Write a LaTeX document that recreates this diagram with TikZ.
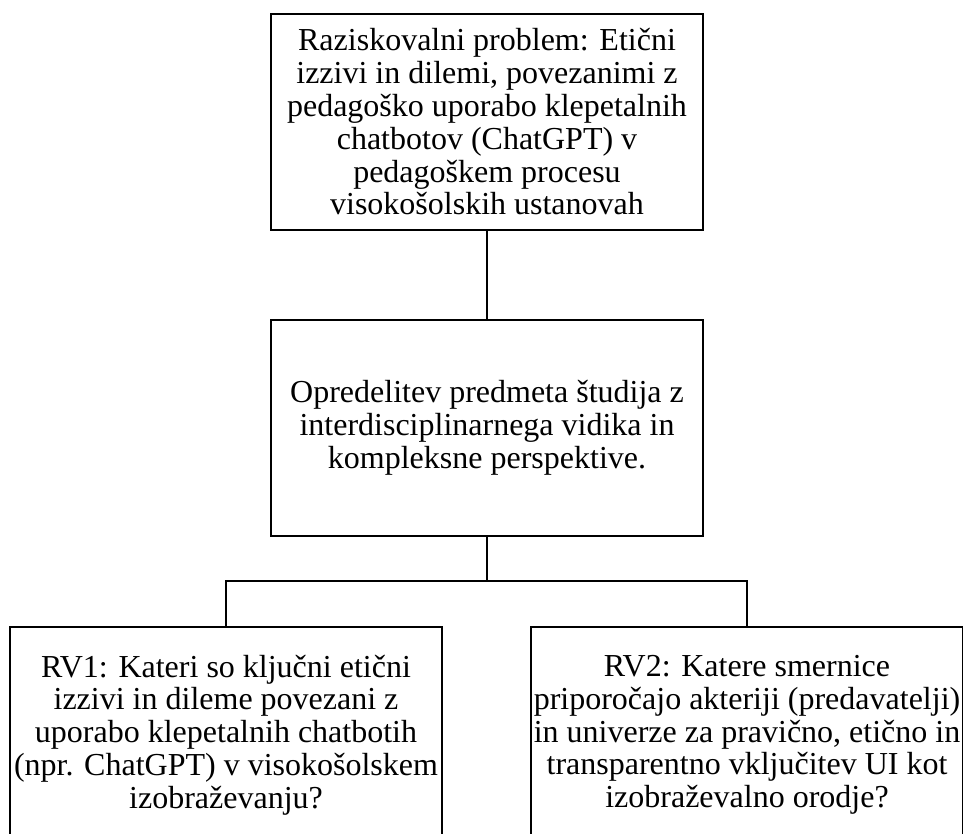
\documentclass[tikz,border=0pt]{standalone}
\usepackage{fontspec}
\setmainfont{Liberation Serif}

\begin{document}
\begin{tikzpicture}[x=1pt, y=-1pt, every path/.style={line width=2pt}, every node/.style={draw, minimum width=432pt, minimum height=216pt, align=center, inner sep=0pt, font=\fontsize{32}{32.8}\selectfont}]
\useasboundingbox (0,0) rectangle (963,834);
\node (problem) at (487,122) {Raziskovalni problem: Etični\\ izzivi in dilemi, povezanimi z\\ pedagoško uporabo klepetalnih\\ chatbotov (ChatGPT) v\\ pedagoškem procesu\\ visokošolskih ustanovah};
\node (predmet) at (487,428) {Opredelitev predmeta študija z\\ interdisciplinarnega vidika in\\ kompleksne perspektive.};
\node (rv1) at (226,735) {RV1: Kateri so ključni etični\\ izzivi in dileme povezani z\\ uporabo klepetalnih chatbotih\\ (npr. ChatGPT) v visokošolskem\\ izobraževanju?};
\node (rv2) at (747,735) {RV2: Katere smernice\\ priporočajo akteriji (predavatelji)\\ in univerze za pravično, etično in\\ transparentno vključitev UI kot\\ izobraževalno orodje?};
\coordinate (fork) at (487,581);

\draw (problem) -- (predmet);
\draw (predmet) -- (fork);
\draw (fork) -| (rv1);
\draw (fork) -| (rv2);
\end{tikzpicture}
\end{document}
